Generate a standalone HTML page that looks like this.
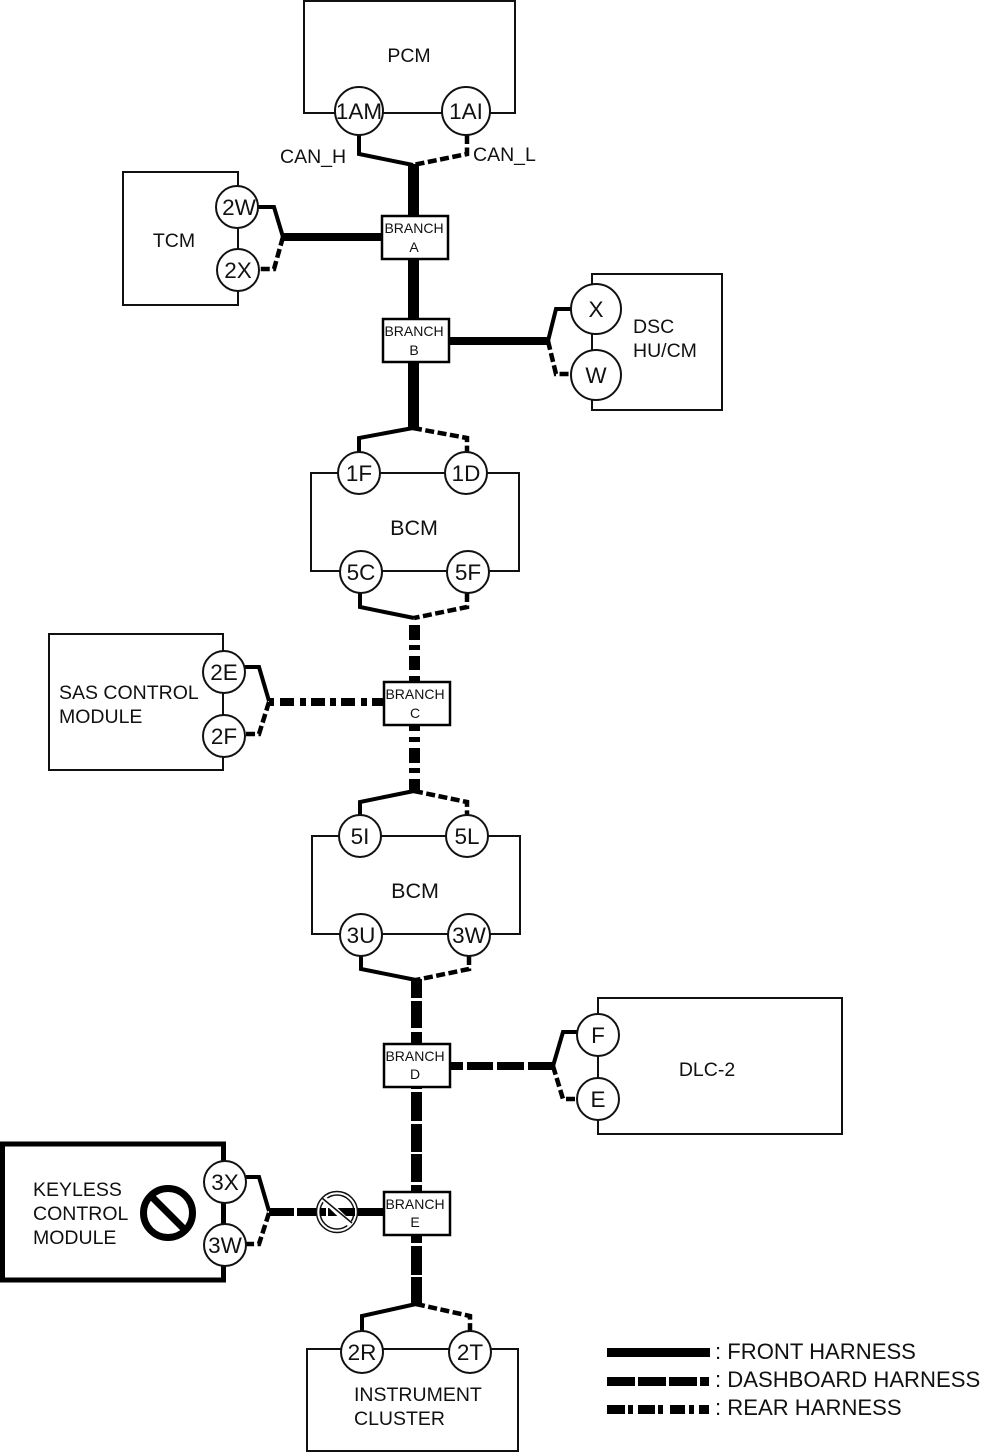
<!DOCTYPE html>
<html><head><meta charset="utf-8"><style>
html,body{margin:0;padding:0;background:#fff}
svg{display:block}
text{font-family:"Liberation Sans",sans-serif;fill:#111}
.c{font-size:22.5px;text-anchor:middle}
.b{font-size:14px;text-anchor:middle}
.l{font-size:19.5px}
.g{font-size:22.1px}
.box{fill:none;stroke:#111;stroke-width:2}
.br{fill:#fff;stroke:#000;stroke-width:2.5}
.o{fill:#fff;stroke:#111;stroke-width:2}
.w{fill:none;stroke:#000;stroke-width:4}
.d{fill:none;stroke:#000;stroke-width:4.5;stroke-dasharray:9 3.5}
</style></head><body>
<svg width="994" height="1453" viewBox="0 0 994 1453" xmlns="http://www.w3.org/2000/svg">
<!-- boxes -->
<rect class="box" x="304" y="1" width="211" height="112"/>
<rect class="box" x="123" y="172" width="115" height="133"/>
<rect class="box" x="592" y="274" width="130" height="136"/>
<rect class="box" x="311" y="473" width="208" height="98"/>
<rect class="box" x="49" y="634" width="174" height="136"/>
<rect class="box" x="312" y="836" width="208" height="98"/>
<rect class="box" x="598" y="998" width="244" height="136"/>
<rect x="2.5" y="1144" width="221" height="136" fill="none" stroke="#000" stroke-width="5"/>
<rect class="box" x="307" y="1349" width="211" height="102"/>

<!-- thin wires -->
<path class="w" d="M359 135V154L413 165"/><path class="d" d="M467 135V154L413 165"/>
<path class="w" d="M258 207H274L283 237"/><path class="d" d="M283 237L274 269H259"/>
<path class="w" d="M571 309H556L548 341"/><path class="d" d="M548 341L556 374H571"/>
<path class="w" d="M413 428L359 438V452"/><path class="d" d="M413 428L467 438V452"/>
<path class="w" d="M360 593V607L414 618"/><path class="d" d="M467 593V607L414 618"/>
<path class="w" d="M245 667H259L269 701"/><path class="d" d="M269 702L259 734H245"/>
<path class="w" d="M414 791L360 802V815"/><path class="d" d="M414 791L467 802V815"/>
<path class="w" d="M361 956V969L416 980"/><path class="d" d="M469 956V969L416 980"/>
<path class="w" d="M577 1032H563L553 1066"/><path class="d" d="M553 1066L563 1099H577"/>
<path class="w" d="M246 1177H259L269 1211"/><path class="d" d="M269 1213L259 1244H246"/>
<path class="w" d="M416 1304L362 1316V1331"/><path class="d" d="M416 1304L470 1316V1331"/>

<!-- front harness -->
<g fill="#000">
<rect x="408" y="164" width="11" height="51"/>
<rect x="408" y="259" width="11" height="60"/>
<rect x="408" y="362" width="11" height="67"/>
<rect x="283" y="233" width="98" height="8"/>
<rect x="449" y="337" width="99" height="8"/>

<!-- rear harness vertical -->
<rect x="409" y="625" width="11" height="15"/><rect x="409" y="645" width="11" height="5"/>
<rect x="409" y="656" width="11" height="14"/><rect x="409" y="676" width="11" height="6"/>
<rect x="409" y="725" width="11" height="6"/><rect x="409" y="737" width="11" height="5"/>
<rect x="409" y="748" width="11" height="15"/><rect x="409" y="768" width="11" height="5"/>
<rect x="409" y="779" width="11" height="13"/>
<!-- rear harness horizontal -->
<rect x="269" y="698" width="5" height="8"/><rect x="280" y="698" width="14" height="8"/>
<rect x="300" y="698" width="6" height="8"/><rect x="311" y="698" width="14" height="8"/>
<rect x="330" y="698" width="6" height="8"/><rect x="341" y="698" width="14" height="8"/>
<rect x="361" y="698" width="6" height="8"/><rect x="372" y="698" width="11" height="8"/>

<!-- dashboard vertical -->
<rect x="411" y="979" width="11" height="19"/><rect x="411" y="1001" width="11" height="27"/>
<rect x="411" y="1032" width="11" height="11"/>
<rect x="411" y="1087" width="11" height="2"/><rect x="411" y="1092" width="11" height="29"/>
<rect x="411" y="1124" width="11" height="28"/><rect x="411" y="1154" width="11" height="28"/>
<rect x="411" y="1185" width="11" height="6"/>
<rect x="411" y="1235" width="11" height="8"/><rect x="411" y="1246" width="11" height="29"/>
<rect x="411" y="1277" width="11" height="27"/>
<!-- dashboard horizontal D -->
<rect x="451" y="1062" width="12" height="8"/><rect x="467" y="1062" width="26" height="8"/>
<rect x="497" y="1062" width="27" height="8"/><rect x="528" y="1062" width="25" height="8"/>
<!-- dashboard horizontal E -->
<rect x="269" y="1208" width="25" height="8"/><rect x="297" y="1208" width="23" height="8"/>
<rect x="355" y="1208" width="29" height="8"/>
</g>

<!-- shut-off symbol on E line -->
<circle cx="337" cy="1212" r="20.5" fill="#fff" stroke="#111" stroke-width="1.5"/>
<circle cx="337" cy="1212" r="17" fill="#fff" stroke="#111" stroke-width="1.5"/>
<rect x="328" y="1208" width="27" height="8" fill="#000"/>
<rect x="320" y="1208" width="6" height="8" fill="#000"/>
<path d="M324 1199L351 1225" stroke="#fff" stroke-width="6" fill="none"/>
<path d="M322 1198L352 1223" stroke="#111" stroke-width="1.5" fill="none"/>

<!-- big prohibition -->
<circle cx="168" cy="1213" r="24.5" fill="none" stroke="#000" stroke-width="7"/>
<path d="M150 1195L186 1231" stroke="#000" stroke-width="7"/>

<!-- branch boxes -->
<rect class="br" x="382" y="216" width="66" height="43"/>
<rect class="br" x="383" y="319" width="66" height="43"/>
<rect class="br" x="384" y="682" width="66" height="43"/>
<rect class="br" x="384" y="1044" width="66" height="43"/>
<rect class="br" x="384" y="1192" width="66" height="43"/>
<text class="b" x="414" y="233">BRANCH</text><text class="b" x="414" y="252">A</text>
<text class="b" x="414" y="336">BRANCH</text><text class="b" x="414" y="355">B</text>
<text class="b" x="415" y="699">BRANCH</text><text class="b" x="415" y="718">C</text>
<text class="b" x="415" y="1061">BRANCH</text><text class="b" x="415" y="1079">D</text>
<text class="b" x="415" y="1209">BRANCH</text><text class="b" x="415" y="1227">E</text>

<!-- connectors -->
<circle class="o" cx="359" cy="111" r="24"/><text class="c" x="359" y="119">1AM</text>
<circle class="o" cx="466" cy="111" r="24"/><text class="c" x="466" y="119">1AI</text>
<circle class="o" cx="237" cy="207" r="21"/><text class="c" x="239" y="215">2W</text>
<circle class="o" cx="238" cy="270" r="21"/><text class="c" x="238" y="278">2X</text>
<circle class="o" cx="596" cy="309" r="25"/><text class="c" x="596" y="317">X</text>
<circle class="o" cx="596" cy="375" r="25"/><text class="c" x="596" y="383">W</text>
<circle class="o" cx="359" cy="473" r="21"/><text class="c" x="359" y="481">1F</text>
<circle class="o" cx="466" cy="473" r="21"/><text class="c" x="466" y="481">1D</text>
<circle class="o" cx="361" cy="572" r="21"/><text class="c" x="361" y="580">5C</text>
<circle class="o" cx="468" cy="572" r="21"/><text class="c" x="468" y="580">5F</text>
<circle class="o" cx="224" cy="672" r="21"/><text class="c" x="224" y="680">2E</text>
<circle class="o" cx="224" cy="736" r="21"/><text class="c" x="224" y="744">2F</text>
<circle class="o" cx="360" cy="836" r="21"/><text class="c" x="360" y="844">5I</text>
<circle class="o" cx="467" cy="836" r="21"/><text class="c" x="467" y="844">5L</text>
<circle class="o" cx="361" cy="935" r="21"/><text class="c" x="361" y="943">3U</text>
<circle class="o" cx="469" cy="935" r="21"/><text class="c" x="469" y="943">3W</text>
<circle class="o" cx="598" cy="1035" r="21"/><text class="c" x="598" y="1043">F</text>
<circle class="o" cx="598" cy="1099" r="21"/><text class="c" x="598" y="1107">E</text>
<circle class="o" cx="225" cy="1182" r="21"/><text class="c" x="225" y="1190">3X</text>
<circle class="o" cx="225" cy="1245" r="21"/><text class="c" x="225" y="1253">3W</text>
<circle class="o" cx="362" cy="1352" r="21"/><text class="c" x="362" y="1360">2R</text>
<circle class="o" cx="470" cy="1352" r="21"/><text class="c" x="470" y="1360">2T</text>

<!-- labels -->
<text class="l" x="409" y="62" text-anchor="middle">PCM</text>
<text class="l" x="280" y="163">CAN_H</text>
<text class="l" x="473" y="161">CAN_L</text>
<text class="l" x="174" y="247" text-anchor="middle">TCM</text>
<text class="l" x="633" y="333">DSC</text>
<text class="l" x="633" y="357">HU/CM</text>
<text x="414" y="535" text-anchor="middle" font-size="21.5">BCM</text>
<text class="l" x="59" y="699">SAS CONTROL</text>
<text class="l" x="59" y="723">MODULE</text>
<text x="415" y="898" text-anchor="middle" font-size="21.5">BCM</text>
<text class="l" x="707" y="1076" text-anchor="middle">DLC-2</text>
<text class="l" x="33" y="1196">KEYLESS</text>
<text class="l" x="33" y="1220">CONTROL</text>
<text class="l" x="33" y="1244">MODULE</text>
<text class="l" x="354" y="1401">INSTRUMENT</text>
<text class="l" x="354" y="1425">CLUSTER</text>

<!-- legend -->
<g fill="#000">
<rect x="607" y="1348" width="103" height="9"/>
<rect x="607" y="1377" width="28" height="9"/><rect x="638" y="1377" width="28" height="9"/>
<rect x="669" y="1377" width="28" height="9"/><rect x="700" y="1377" width="9" height="9"/>
<rect x="607" y="1405" width="18" height="9"/><rect x="628" y="1405" width="5" height="9"/>
<rect x="638" y="1405" width="17" height="9"/><rect x="658" y="1405" width="5" height="9"/>
<rect x="670" y="1405" width="15" height="9"/><rect x="689" y="1405" width="5" height="9"/>
<rect x="699" y="1405" width="10" height="9"/>
</g>
<text class="g" x="715" y="1359">: FRONT HARNESS</text>
<text class="g" x="715" y="1387">: DASHBOARD HARNESS</text>
<text class="g" x="715" y="1415">: REAR HARNESS</text>
</svg>
</body></html>
